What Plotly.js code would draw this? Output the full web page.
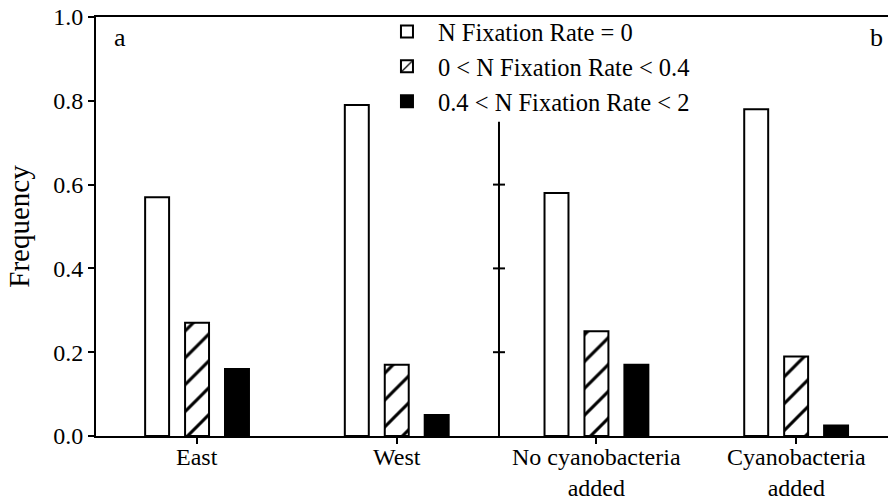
<!DOCTYPE html>
<html>
<head>
<meta charset="utf-8">
<script src="https://cdn.plot.ly/plotly-3.0.1.min.js"></script>
<style>
  html, body { margin: 0; padding: 0; background: #fff; }
  #chart { width: 888px; height: 500px; }
</style>
</head>
<body>
<div id="chart"></div>
<script>
// ---- data ----
const categories = ["East", "West", "No cyanobacteria<br>added", "Cyanobacteria<br>added"];
const seriesNames = ["N Fixation Rate = 0", "0 < N Fixation Rate < 0.4", "0.4 < N Fixation Rate < 2"];
const rateZero = [0.57, 0.79, 0.58, 0.78];
const rateLow = [0.27, 0.17, 0.25, 0.19];
const rateHigh = [0.16, 0.05, 0.17, 0.025];
const yTickVals = [0, 0.2, 0.4, 0.6, 0.8, 1.0];
const dividerTicks = [0.2, 0.4, 0.6];
const panelLabels = ["a", "b"];

const FONT = "Liberation Serif";
const xIdx = categories.map((_, i) => i);

const traces = [
  {
    type: "bar", name: seriesNames[0], x: xIdx, y: rateZero,
    marker: { color: "white", line: { color: "black", width: 2 } }
  },
  {
    type: "bar", name: seriesNames[1], x: xIdx, y: rateLow,
    marker: {
      color: "white", line: { color: "black", width: 2 },
      pattern: { shape: "/", fgcolor: "black", bgcolor: "white", size: 19, solidity: 0.16, fillmode: "replace" }
    }
  },
  {
    type: "bar", name: seriesNames[2], x: xIdx, y: rateHigh,
    marker: { color: "black", line: { color: "black", width: 2 } }
  }
];

const DIV_X = 1.512;
const shapes = [
  { type: "line", xref: "x", yref: "y", x0: DIV_X, x1: DIV_X, y0: 0, y1: 0.75, line: { color: "black", width: 2 } }
].concat(dividerTicks.map(v => ({
  type: "line", xref: "x", yref: "y", x0: DIV_X - 0.03, x1: DIV_X + 0.03, y0: v, y1: v,
  line: { color: "black", width: 2 }
})));

const annotations = categories.map((c, i) => ({
  x: i, xref: "x", y: 0, yref: "paper", yanchor: "top", xanchor: "center",
  yshift: -6, text: c, showarrow: false, align: "center",
  font: { family: FONT, size: 24, color: "black" }
}));
annotations.push({
  x: 0.0303, y: 0.952, xref: "paper", yref: "paper", xanchor: "center", yanchor: "middle",
  text: panelLabels[0], showarrow: false, font: { family: FONT, size: 26, color: "black" }
});
annotations.push({
  x: 0.985, y: 0.952, xref: "paper", yref: "paper", xanchor: "center", yanchor: "middle",
  text: panelLabels[1], showarrow: false, font: { family: FONT, size: 26, color: "black" }
});

const layout = {
  width: 888, height: 500,
  margin: { l: 96, r: 0, t: 17, b: 64, pad: 0 },
  paper_bgcolor: "white", plot_bgcolor: "white",
  font: { family: FONT, color: "black" },
  barmode: "group", bargap: 0.4, bargroupgap: 0.4,
  showlegend: true,
  legend: {
    x: 0.3535, y: 1.019, xanchor: "left", yanchor: "top",
    bgcolor: "rgba(0,0,0,0)", borderwidth: 0, itemwidth: 52,
    font: { family: FONT, size: 24.5, color: "black" },
    tracegroupgap: 0
  },
  xaxis: {
    type: "linear", range: [-0.506, 3.46],
    showgrid: false, zeroline: false,
    showline: true, linecolor: "black", linewidth: 2, mirror: true,
    ticks: "outside", ticklen: 6, tickwidth: 2, tickcolor: "black",
    tickvals: xIdx, showticklabels: false, fixedrange: true
  },
  yaxis: {
    range: [0, 1], tickvals: yTickVals, tickformat: ".1f",
    showgrid: false, zeroline: false,
    showline: true, linecolor: "black", linewidth: 2, mirror: false,
    ticks: "outside", ticklen: 6, tickwidth: 2, tickcolor: "black",
    tickfont: { family: FONT, size: 24, color: "black" },
    title: { text: "Frequency", font: { family: FONT, size: 29, color: "black" }, standoff: 15 },
    automargin: false, fixedrange: true
  },
  shapes: shapes,
  annotations: annotations
};

Plotly.newPlot("chart", traces, layout, { staticPlot: true, displayModeBar: false });
</script>
</body>
</html>
